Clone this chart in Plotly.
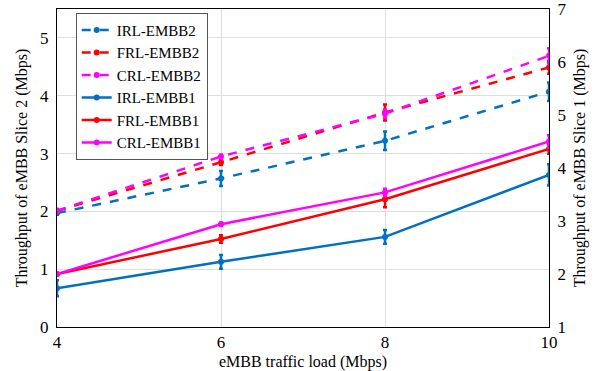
import plotly.graph_objects as go

BLUE = "#0070C0"
RED = "#FF0000"
MAGENTA = "#FF00FF"
FONT = "Liberation Serif, Times New Roman, serif"

load = [4, 6, 8, 10]

# slice 2 (left axis)
irl_embb2 = [1.97, 2.57, 3.22, 4.07]
frl_embb2 = [2.01, 2.85, 3.71, 4.49]
crl_embb2 = [2.01, 2.95, 3.69, 4.69]
irl_embb2_err = [0.03, 0.13, 0.16, 0.16]
frl_embb2_err = [0.03, 0.05, 0.14, 0.11]
crl_embb2_err = [0.02, 0.03, 0.07, 0.13]

# slice 1 (right axis)
irl_embb1 = [1.73, 2.23, 2.70, 3.87]
frl_embb1 = [2.00, 2.66, 3.41, 4.36]
crl_embb1 = [2.00, 2.94, 3.54, 4.50]
irl_embb1_err = [0.15, 0.13, 0.13, 0.20]
frl_embb1_err = [0.02, 0.07, 0.15, 0.09]
crl_embb1_err = [0.02, 0.03, 0.07, 0.12]

series = [
    ("IRL-EMBB2", irl_embb2, irl_embb2_err, BLUE, "dash", "y"),
    ("FRL-EMBB2", frl_embb2, frl_embb2_err, RED, "dash", "y"),
    ("CRL-EMBB2", crl_embb2, crl_embb2_err, MAGENTA, "dash", "y"),
    ("IRL-EMBB1", irl_embb1, irl_embb1_err, BLUE, "solid", "y2"),
    ("FRL-EMBB1", frl_embb1, frl_embb1_err, RED, "solid", "y2"),
    ("CRL-EMBB1", crl_embb1, crl_embb1_err, MAGENTA, "solid", "y2"),
]

fig = go.Figure()
for name, vals, err, colour, dash, axis in series:
    fig.add_trace(go.Scatter(
        x=load, y=vals, name=name, yaxis=axis, mode="lines+markers",
        line=dict(color=colour, width=2.5, dash=dash),
        marker=dict(color=colour, size=6),
        error_y=dict(type="data", array=err, color=colour, thickness=2.5, width=2),
    ))

fig.update_layout(
    width=595, height=371,
    margin=dict(l=57, r=46, t=9, b=44),
    plot_bgcolor="white", paper_bgcolor="white",
    font=dict(family=FONT, size=17, color="black"),
    legend=dict(x=0.038, y=0.988, xanchor="left", yanchor="top",
                bgcolor="white", bordercolor="#555555", borderwidth=1,
                font=dict(family=FONT, size=15), tracegroupgap=0, itemwidth=30),
    xaxis=dict(
        range=[4, 10], tickvals=[4, 6, 8, 10], automargin=False,
        title=dict(text="eMBB traffic load (Mbps)", font=dict(size=16), standoff=4),
        showline=True, linecolor="black", linewidth=1, mirror=True,
        showgrid=True, gridcolor="#DDDDDD", zeroline=False, ticks="",
    ),
    yaxis=dict(
        range=[0, 5.5], tickvals=[0, 1, 2, 3, 4, 5], automargin=False,
        title=dict(text="Throughput of eMBB Slice 2 (Mbps)", font=dict(size=16), standoff=8),
        showline=True, linecolor="black", linewidth=1, ticklabelstandoff=4,
        showgrid=True, gridcolor="#DDDDDD", zeroline=False, ticks="",
    ),
    yaxis2=dict(
        range=[1, 7], tickvals=[1, 2, 3, 4, 5, 6, 7], overlaying="y", side="right",
        automargin=False, ticklabelstandoff=4, ticklabeloverflow="allow",
        title=dict(text="Throughput of eMBB Slice 1 (Mbps)", font=dict(size=16), standoff=8),
        showline=True, linecolor="black", linewidth=1,
        showgrid=False, zeroline=False, ticks="",
    ),
)

# drop the browser's default 8px body margin so the figure sits at the page corner
fig.write_html("out.html", config={"displayModeBar": False},
               post_script="document.body.style.margin='0';")
